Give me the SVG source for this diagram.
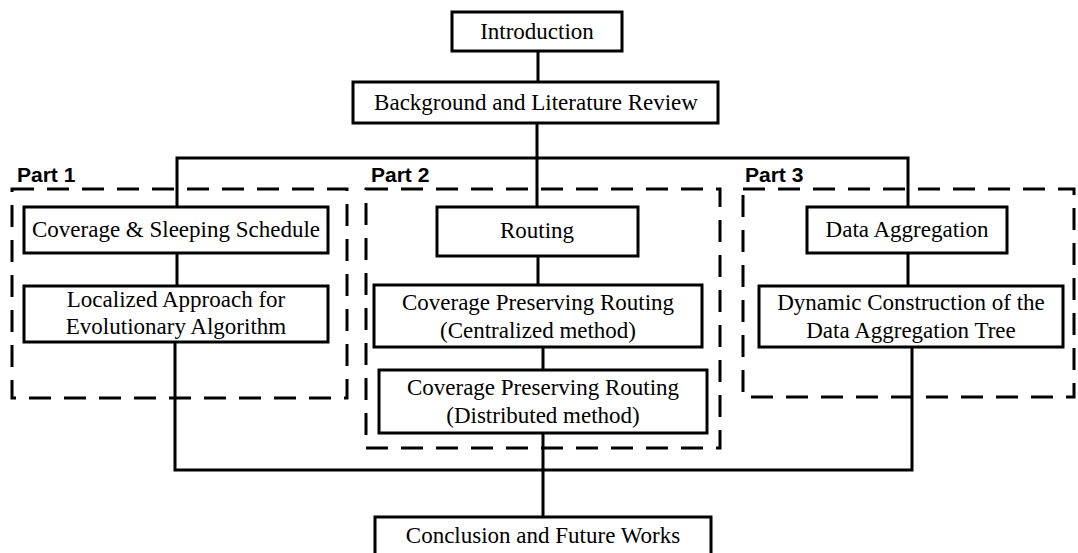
<svg xmlns="http://www.w3.org/2000/svg" width="1078" height="553" viewBox="0 0 1078 553">
  <style>
    .box { fill: #ffffff; stroke: #000000; stroke-width: 3; }
    .part { fill: none; stroke: #000000; stroke-width: 3; stroke-dasharray: 22 13; }
    .wire { fill: none; stroke: #000000; stroke-width: 3; stroke-linecap: square; }
    .lbl { font-family: "Liberation Serif", "Times New Roman", serif; font-size: 23px; fill: #000000; text-anchor: middle; }
    .ptitle { font-family: "Liberation Sans", Arial, sans-serif; font-size: 21px; font-weight: bold; fill: #000000; }
  </style>
  <rect width="1078" height="553" fill="#ffffff"/>

  <!-- part frames -->
  <g id="parts">
    <rect class="part" x="12" y="189" width="335" height="209"/>
    <rect class="part" x="366" y="189" width="354" height="259"/>
    <rect class="part" x="743" y="189" width="331" height="208"/>
    <text class="ptitle" x="17" y="182">Part 1</text>
    <text class="ptitle" x="371" y="182">Part 2</text>
    <text class="ptitle" x="745" y="182">Part 3</text>
  </g>

  <!-- connectors -->
  <g id="connectors">
    <path class="wire" d="M538 51 V82"/>
    <path class="wire" d="M537 123 V207"/>
    <path class="wire" d="M177 207 V158 H908 V207"/>
    <path class="wire" d="M177 253 V286"/>
    <path class="wire" d="M908 253 V286"/>
    <path class="wire" d="M538 256 V285"/>
    <path class="wire" d="M543 347 V370"/>
    <path class="wire" d="M175 342 V470 H912 V347"/>
    <path class="wire" d="M543 433 V517"/>
  </g>

  <g id="introduction">
    <rect class="box" x="452" y="12" width="170" height="39"/>
    <text class="lbl" x="537" y="39">Introduction</text>
  </g>

  <g id="background">
    <rect class="box" x="353" y="82" width="365" height="41"/>
    <text class="lbl" x="536" y="110">Background and Literature Review</text>
  </g>

  <g id="coverage-sleeping">
    <rect class="box" x="24" y="207" width="304" height="46"/>
    <text class="lbl" x="176" y="237">Coverage &amp; Sleeping Schedule</text>
  </g>

  <g id="localized-approach">
    <rect class="box" x="24" y="286" width="304" height="56"/>
    <text class="lbl" x="176" y="307">Localized Approach for</text>
    <text class="lbl" x="176" y="334">Evolutionary Algorithm</text>
  </g>

  <g id="routing">
    <rect class="box" x="437" y="207" width="201" height="49"/>
    <text class="lbl" x="537" y="238">Routing</text>
  </g>

  <g id="routing-centralized">
    <rect class="box" x="374" y="285" width="328" height="62"/>
    <text class="lbl" x="538" y="310">Coverage Preserving Routing</text>
    <text class="lbl" x="538" y="338">(Centralized method)</text>
  </g>

  <g id="routing-distributed">
    <rect class="box" x="379" y="370" width="328" height="63"/>
    <text class="lbl" x="543" y="395">Coverage Preserving Routing</text>
    <text class="lbl" x="543" y="423">(Distributed method)</text>
  </g>

  <g id="data-aggregation">
    <rect class="box" x="807" y="207" width="200" height="46"/>
    <text class="lbl" x="907" y="237">Data Aggregation</text>
  </g>

  <g id="aggregation-tree">
    <rect class="box" x="759" y="286" width="304" height="61"/>
    <text class="lbl" x="911" y="310">Dynamic Construction of the</text>
    <text class="lbl" x="911" y="338">Data Aggregation Tree</text>
  </g>

  <g id="conclusion">
    <rect class="box" x="375" y="517" width="336" height="50"/>
    <text class="lbl" x="543" y="543">Conclusion and Future Works</text>
  </g>
</svg>
